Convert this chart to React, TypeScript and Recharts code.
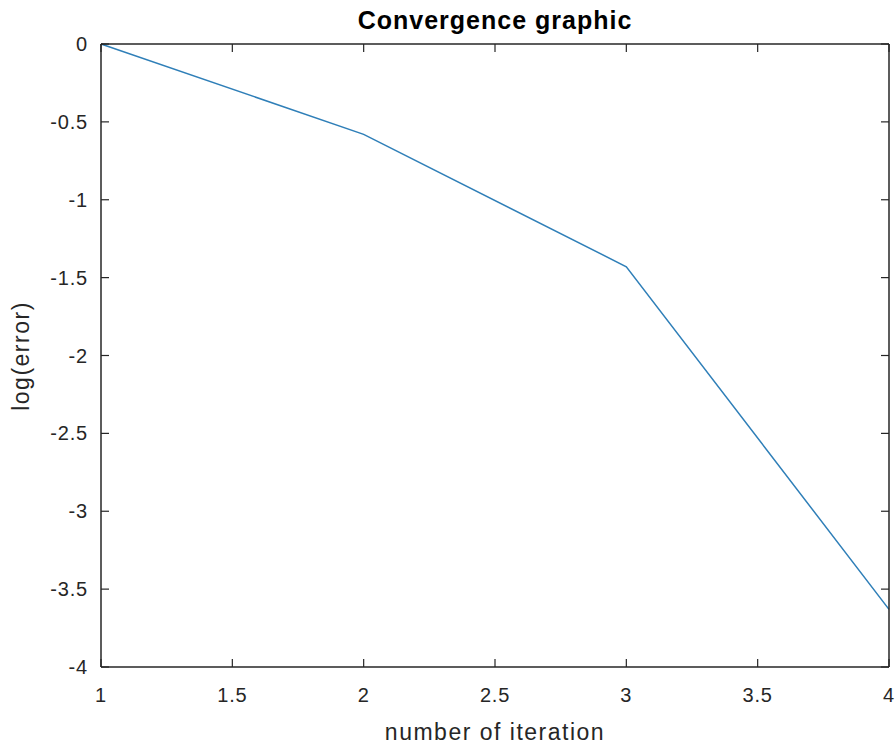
import { LineChart, Line, XAxis, YAxis } from 'recharts';

const iterations = [1, 2, 3, 4];
const logError = [0, -0.58, -1.43, -3.63];
const xTicks = [1, 1.5, 2, 2.5, 3, 3.5, 4];
const yTicks = [-4, -3.5, -3, -2.5, -2, -1.5, -1, -0.5, 0];

const data = iterations.map((it, i) => ({ it, err: logError[i] }));

const W = 896;
const H = 747;
const axisColor = '#262626';
const lineColor = '#2f7fb8';
const font = '"Liberation Sans", Arial, Helvetica, sans-serif';
const M = 10; // tickMargin used to recover the axis line position
const TICK = 8;

function BottomTick(props: any) {
  const { x, y, payload } = props;
  const axisY = y - M;
  return (
    <g>
      <line x1={x} y1={axisY} x2={x} y2={axisY - TICK} stroke={axisColor} strokeWidth={1.2} />
      <text x={x} y={axisY + 35} textAnchor="middle" fill={axisColor} fontSize={20} letterSpacing={0.8} fontFamily={font}>
        {payload.value}
      </text>
    </g>
  );
}

function LeftTick(props: any) {
  const { x, y, payload } = props;
  const axisX = x + M;
  return (
    <g>
      <line x1={axisX} y1={y} x2={axisX + TICK} y2={y} stroke={axisColor} strokeWidth={1.2} />
      <text x={axisX - 13} y={y} dy="0.35em" textAnchor="end" fill={axisColor} fontSize={20} letterSpacing={0.8} fontFamily={font}>
        {payload.value}
      </text>
    </g>
  );
}

function TopTick(props: any) {
  const { x, y } = props;
  return <line x1={x} y1={y} x2={x} y2={y + TICK} stroke={axisColor} strokeWidth={1.2} />;
}

function RightTick(props: any) {
  const { x, y } = props;
  return <line x1={x} y1={y} x2={x - TICK} y2={y} stroke={axisColor} strokeWidth={1.2} />;
}

export default function App() {
  return (
    <div style={{ position: 'absolute', left: 0, top: 0, width: W, height: H, background: '#fff' }}>
      <LineChart width={W} height={H} data={data} margin={{ top: 43, right: 6, bottom: 20, left: 41 }}>
        <XAxis
          dataKey="it"
          type="number"
          domain={[1, 4]}
          ticks={xTicks}
          interval={0}
          height={60}
          tickSize={0}
          tickMargin={M}
          tickLine={false}
          axisLine={{ stroke: axisColor, strokeWidth: 1.5 }}
          tick={<BottomTick />}
        />
        <XAxis
          xAxisId="top"
          orientation="top"
          dataKey="it"
          type="number"
          domain={[1, 4]}
          allowDataOverflow
          ticks={xTicks}
          interval={0}
          height={1}
          tickSize={0}
          tickMargin={0}
          tickLine={false}
          axisLine={{ stroke: axisColor, strokeWidth: 1.5 }}
          tick={<TopTick />}
        />
        <YAxis
          type="number"
          domain={[-4, 0]}
          ticks={yTicks}
          interval={0}
          width={60}
          tickSize={0}
          tickMargin={M}
          tickLine={false}
          axisLine={{ stroke: axisColor, strokeWidth: 1.5 }}
          tick={<LeftTick />}
        />
        <YAxis
          yAxisId="right"
          orientation="right"
          type="number"
          domain={[-4, 0]}
          allowDataOverflow
          ticks={yTicks}
          interval={0}
          width={1}
          tickSize={0}
          tickMargin={0}
          tickLine={false}
          axisLine={{ stroke: axisColor, strokeWidth: 1.5 }}
          tick={<RightTick />}
        />
        <Line
          type="linear"
          dataKey="err"
          stroke={lineColor}
          strokeWidth={1.5}
          dot={false}
          isAnimationActive={false}
        />
      </LineChart>
      <svg width={W} height={H} style={{ position: 'absolute', left: 0, top: 0, pointerEvents: 'none' }}>
        <text x={495} y={29} textAnchor="middle" fontSize={25} fontWeight="bold" letterSpacing={1} fill="#000" fontFamily={font}>
          Convergence graphic
        </text>
        <text x={495} y={740} textAnchor="middle" fontSize={23} letterSpacing={1.5} fill={axisColor} fontFamily={font}>
          number of iteration
        </text>
        <text
          x={29}
          y={356}
          textAnchor="middle"
          fontSize={23}
          letterSpacing={1.5}
          fill={axisColor}
          fontFamily={font}
          transform="rotate(-90 29 356)"
        >
          log(error)
        </text>
      </svg>
    </div>
  );
}
